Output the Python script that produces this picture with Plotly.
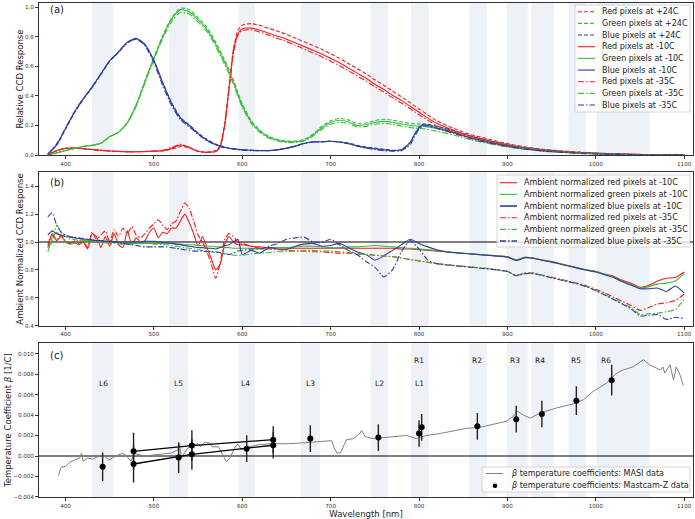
import plotly.graph_objects as go

# ---------------- data ----------------
# Panel (a): relative CCD response
WL_A = [380, 390, 400, 410, 420, 430, 440, 450, 460, 470, 480, 490, 500, 510, 520, 530, 540, 550, 560, 570,
        575, 580, 585, 590, 595, 600,
        610, 620, 630, 640, 650, 660, 670, 680, 690, 700, 710, 720, 730, 740, 750, 760, 770, 780, 790,
        795, 800, 805, 810, 820,
        840, 860, 880, 900, 920, 940, 960, 980, 1000, 1020, 1040, 1060, 1080, 1100]

RED_P24 = [0.000, 0.028, 0.045, 0.046, 0.043, 0.036, 0.032, 0.027, 0.024, 0.021, 0.022, 0.023, 0.024, 0.028, 0.040, 0.058, 0.048, 0.025, 0.020, 0.030,
           0.065, 0.210, 0.460, 0.720, 0.845, 0.880,
           0.890, 0.878, 0.858, 0.838, 0.818, 0.792, 0.767, 0.742, 0.716, 0.686, 0.655, 0.620, 0.585, 0.550, 0.510, 0.473, 0.432, 0.395, 0.354,
           0.333, 0.312, 0.292, 0.272, 0.232,
           0.178, 0.136, 0.106, 0.077, 0.055, 0.039, 0.029, 0.021, 0.014, 0.009, 0.0055, 0.003, 0.0015, 0.0013]
GREEN_P24 = [0.000, 0.014, 0.029, 0.044, 0.057, 0.065, 0.079, 0.124, 0.154, 0.220, 0.340, 0.505, 0.660, 0.810, 0.930, 0.995, 0.985, 0.930, 0.865, 0.765,
             0.705, 0.645, 0.580, 0.510, 0.425, 0.348,
             0.235, 0.168, 0.127, 0.105, 0.095, 0.095, 0.105, 0.142, 0.195, 0.232, 0.248, 0.238, 0.212, 0.217, 0.233, 0.242, 0.236, 0.224, 0.214,
             0.212, 0.210, 0.209, 0.204, 0.194,
             0.163, 0.126, 0.097, 0.071, 0.051, 0.036, 0.026, 0.018, 0.012, 0.008, 0.0048, 0.0028, 0.0015, 0.0013]
BLUE_P24 = [0.005, 0.066, 0.175, 0.285, 0.375, 0.455, 0.545, 0.635, 0.695, 0.760, 0.785, 0.745, 0.640, 0.490, 0.355, 0.255, 0.205, 0.150, 0.105, 0.074,
            0.064, 0.055, 0.048, 0.043, 0.039, 0.036,
            0.033, 0.031, 0.031, 0.036, 0.046, 0.060, 0.078, 0.088, 0.090, 0.094, 0.090, 0.081, 0.066, 0.054, 0.047, 0.039, 0.032, 0.036, 0.084,
            0.140, 0.188, 0.210, 0.208, 0.195,
            0.164, 0.126, 0.096, 0.070, 0.050, 0.035, 0.025, 0.017, 0.012, 0.008, 0.0048, 0.0028, 0.0016, 0.0013]
RED_M10 = [0.000, 0.030, 0.045, 0.047, 0.043, 0.037, 0.032, 0.027, 0.024, 0.022, 0.022, 0.024, 0.026, 0.030, 0.045, 0.068, 0.050, 0.025, 0.018, 0.025,
           0.060, 0.200, 0.450, 0.700, 0.820, 0.855,
           0.860, 0.845, 0.825, 0.805, 0.785, 0.760, 0.735, 0.710, 0.685, 0.655, 0.625, 0.590, 0.555, 0.520, 0.480, 0.445, 0.405, 0.370, 0.330,
           0.310, 0.290, 0.270, 0.250, 0.215,
           0.165, 0.125, 0.095, 0.068, 0.048, 0.033, 0.024, 0.017, 0.011, 0.007, 0.004, 0.002, 0.001, 0.001]
GREEN_M10 = [0.000, 0.015, 0.030, 0.045, 0.058, 0.066, 0.080, 0.125, 0.155, 0.220, 0.340, 0.500, 0.655, 0.800, 0.920, 0.985, 0.970, 0.915, 0.850, 0.750,
             0.690, 0.630, 0.565, 0.495, 0.410, 0.335,
             0.225, 0.160, 0.120, 0.100, 0.090, 0.090, 0.100, 0.135, 0.185, 0.220, 0.235, 0.225, 0.200, 0.205, 0.220, 0.228, 0.222, 0.210, 0.200,
             0.198, 0.196, 0.195, 0.190, 0.180,
             0.150, 0.115, 0.088, 0.063, 0.045, 0.031, 0.022, 0.015, 0.010, 0.006, 0.0035, 0.002, 0.001, 0.001]
BLUE_M10 = [0.005, 0.070, 0.180, 0.290, 0.380, 0.460, 0.550, 0.640, 0.700, 0.765, 0.790, 0.750, 0.640, 0.490, 0.350, 0.250, 0.200, 0.145, 0.100, 0.070,
            0.060, 0.052, 0.046, 0.042, 0.038, 0.035,
            0.032, 0.030, 0.030, 0.035, 0.045, 0.060, 0.078, 0.088, 0.090, 0.093, 0.088, 0.078, 0.062, 0.050, 0.042, 0.035, 0.030, 0.035, 0.085,
            0.140, 0.185, 0.205, 0.200, 0.185,
            0.152, 0.115, 0.086, 0.062, 0.044, 0.030, 0.021, 0.014, 0.0095, 0.006, 0.0033, 0.0018, 0.001, 0.0008]
RED_M35 = [0.000, 0.030, 0.046, 0.047, 0.044, 0.038, 0.032, 0.027, 0.025, 0.023, 0.022, 0.024, 0.027, 0.032, 0.049, 0.072, 0.052, 0.025, 0.017, 0.022,
           0.055, 0.190, 0.440, 0.690, 0.810, 0.845,
           0.848, 0.832, 0.811, 0.790, 0.769, 0.744, 0.718, 0.692, 0.666, 0.636, 0.605, 0.571, 0.536, 0.501, 0.462, 0.427, 0.388, 0.352, 0.313,
           0.293, 0.273, 0.254, 0.236, 0.200,
           0.150, 0.112, 0.083, 0.060, 0.041, 0.028, 0.019, 0.013, 0.008, 0.0045, 0.0025, 0.0015, 0.0009, 0.0008]
GREEN_M35 = [0.000, 0.016, 0.030, 0.045, 0.058, 0.066, 0.080, 0.124, 0.153, 0.215, 0.330, 0.490, 0.645, 0.790, 0.905, 0.965, 0.955, 0.900, 0.835, 0.735,
             0.675, 0.615, 0.550, 0.480, 0.398, 0.325,
             0.215, 0.152, 0.114, 0.095, 0.085, 0.085, 0.095, 0.128, 0.175, 0.208, 0.222, 0.212, 0.190, 0.194, 0.208, 0.214, 0.208, 0.196, 0.186,
             0.183, 0.180, 0.178, 0.173, 0.162,
             0.134, 0.101, 0.076, 0.054, 0.038, 0.026, 0.018, 0.012, 0.0078, 0.0045, 0.0025, 0.0014, 0.0008, 0.0006]
BLUE_M35 = [0.006, 0.075, 0.182, 0.292, 0.382, 0.462, 0.550, 0.638, 0.698, 0.762, 0.785, 0.740, 0.625, 0.470, 0.335, 0.240, 0.190, 0.140, 0.097, 0.068,
            0.058, 0.050, 0.045, 0.040, 0.036, 0.033,
            0.030, 0.029, 0.030, 0.036, 0.047, 0.062, 0.080, 0.089, 0.089, 0.092, 0.086, 0.076, 0.060, 0.046, 0.037, 0.029, 0.026, 0.028, 0.070,
            0.125, 0.175, 0.198, 0.195, 0.180,
            0.145, 0.108, 0.080, 0.057, 0.040, 0.027, 0.018, 0.012, 0.0075, 0.0045, 0.0023, 0.0013, 0.0007, 0.0006]

# Panel (b): ambient-normalised response
WL_B = list(range(380, 601, 5)) + list(range(610, 1101, 10))
NORM_RED_M10 = [0.98, 1.06, 1.01, 1.04, 1.00, 0.99, 1.00, 0.98, 1.00, 0.95, 1.06, 1.04, 0.96, 1.04, 0.97, 1.06, 0.98, 0.96, 1.08, 0.98,
                1.03, 1.00, 1.01, 1.07, 1.10, 1.03, 1.07, 1.06, 1.10, 1.10, 1.15, 1.20, 1.14, 1.06, 0.97, 1.04, 0.96, 0.88, 0.80, 0.84,
                0.98, 1.04, 1.00, 0.98, 0.98,
                0.97, 0.965, 0.96, 0.96, 0.955, 0.955, 0.955, 0.955, 0.955, 0.955, 0.955, 0.955, 0.955, 0.955, 0.955, 0.955, 0.955, 0.95, 0.95,
                0.945, 0.94, 0.935, 0.93, 0.925, 0.92, 0.915, 0.91, 0.905, 0.90, 0.895, 0.87, 0.89, 0.885, 0.87, 0.86, 0.845, 0.83, 0.815, 0.80,
                0.79, 0.77, 0.755, 0.725, 0.705, 0.675, 0.69, 0.72, 0.74, 0.745, 0.785]
NORM_GREEN_M10 = [0.93, 1.03, 1.07, 1.04, 1.00, 0.985, 0.99, 1.00, 1.01, 1.01, 1.01, 1.01, 1.00, 1.00, 1.00, 1.00, 0.995, 0.99, 0.99, 0.99,
                  0.99, 0.99, 0.99, 0.99, 0.99, 0.99, 0.99, 0.99, 0.99, 0.985, 0.985, 0.98, 0.98, 0.98, 0.975, 0.975, 0.97, 0.97, 0.965, 0.965,
                  0.96, 0.96, 0.955, 0.955, 0.955,
                  0.955, 0.95, 0.955, 0.96, 0.96, 0.965, 0.97, 0.97, 0.965, 0.96, 0.96, 0.965, 0.965, 0.97, 0.975, 0.97, 0.965, 0.96, 0.955,
                  0.95, 0.945, 0.94, 0.932, 0.925, 0.92, 0.915, 0.91, 0.905, 0.90, 0.895, 0.872, 0.89, 0.884, 0.87, 0.858, 0.843, 0.828, 0.813, 0.80,
                  0.788, 0.768, 0.748, 0.718, 0.695, 0.67, 0.68, 0.70, 0.705, 0.72, 0.775]
NORM_BLUE_M10 = [1.05, 1.08, 1.06, 1.05, 1.04, 1.035, 1.03, 1.025, 1.02, 1.02, 1.015, 1.01, 1.01, 1.005, 1.005, 1.0, 1.0, 1.0, 1.0, 1.0,
                 1.0, 1.0, 1.005, 1.005, 1.005, 1.0, 1.0, 0.995, 0.99, 0.985, 0.98, 0.975, 0.97, 0.965, 0.96, 0.96, 0.955, 0.955, 0.95, 0.96,
                 0.975, 0.98, 1.0, 1.02, 0.91,
                 0.94, 0.92, 0.96, 0.95, 0.945, 0.97, 0.985, 0.99, 0.97, 0.975, 0.99, 0.96, 0.93, 0.91, 0.87, 0.90, 0.94, 0.98, 1.02,
                 0.99, 0.965, 0.945, 0.93, 0.923, 0.918, 0.913, 0.908, 0.903, 0.898, 0.893, 0.868, 0.888, 0.882, 0.868, 0.856, 0.841, 0.826, 0.811, 0.797,
                 0.785, 0.765, 0.745, 0.715, 0.69, 0.665, 0.665, 0.67, 0.645, 0.685, 0.635]
NORM_RED_M35 = [0.96, 1.05, 1.02, 1.05, 1.01, 0.99, 1.01, 0.99, 1.01, 0.96, 1.07, 1.02, 1.05, 1.08, 1.00, 1.09, 1.04, 1.10, 1.06, 1.11,
                1.05, 1.03, 1.06, 1.10, 1.13, 1.16, 1.12, 1.09, 1.13, 1.15, 1.22, 1.28, 1.24, 1.15, 1.05, 1.00, 0.93, 0.84, 0.74, 0.85,
                1.02, 1.06, 1.04, 1.00, 0.99,
                0.97, 0.955, 0.95, 0.945, 0.94, 0.935, 0.935, 0.93, 0.93, 0.925, 0.92, 0.92, 0.915, 0.91, 0.905, 0.90, 0.895, 0.885, 0.875,
                0.865, 0.855, 0.845, 0.838, 0.832, 0.826, 0.82, 0.814, 0.808, 0.80, 0.79, 0.762, 0.778, 0.777, 0.762, 0.748, 0.733, 0.718, 0.703, 0.685,
                0.662, 0.635, 0.605, 0.575, 0.545, 0.51, 0.53, 0.555, 0.565, 0.58, 0.625]
NORM_GREEN_M35 = [0.96, 1.00, 1.12, 1.08, 1.04, 1.02, 1.02, 1.01, 1.01, 1.00, 1.00, 1.00, 1.00, 0.995, 0.99, 0.99, 0.985, 0.985, 0.985, 0.985,
                  0.99, 0.99, 0.99, 0.99, 0.985, 0.985, 0.98, 0.98, 0.975, 0.97, 0.965, 0.96, 0.955, 0.95, 0.945, 0.94, 0.935, 0.93, 0.925, 0.92,
                  0.915, 0.91, 0.905, 0.905, 0.905,
                  0.915, 0.92, 0.925, 0.93, 0.93, 0.935, 0.94, 0.94, 0.935, 0.935, 0.93, 0.925, 0.92, 0.91, 0.905, 0.90, 0.895, 0.885, 0.875,
                  0.865, 0.855, 0.845, 0.838, 0.832, 0.826, 0.82, 0.814, 0.808, 0.80, 0.79, 0.76, 0.775, 0.775, 0.76, 0.745, 0.73, 0.715, 0.70, 0.68,
                  0.655, 0.625, 0.593, 0.56, 0.53, 0.48, 0.485, 0.49, 0.50, 0.515, 0.59]
NORM_BLUE_M35 = [1.18, 1.21, 1.12, 1.07, 1.05, 1.04, 1.035, 1.03, 1.025, 1.02, 1.015, 1.01, 1.01, 1.005, 1.0, 1.0, 0.995, 0.99, 0.985, 0.98,
                 0.975, 0.97, 0.965, 0.965, 0.965, 0.965, 0.965, 0.965, 0.96, 0.955, 0.95, 0.945, 0.94, 0.935, 0.935, 0.935, 0.93, 0.93, 0.93, 0.925,
                 0.92, 0.91, 0.92, 0.935, 0.94,
                 0.95, 0.95, 0.97, 0.99, 1.02, 1.03, 1.035, 1.00, 0.995, 1.02, 0.98, 0.94, 0.91, 0.86, 0.82, 0.75, 0.80, 0.93, 1.01,
                 0.95, 0.87, 0.845, 0.836, 0.83, 0.824, 0.818, 0.812, 0.806, 0.798, 0.788, 0.758, 0.773, 0.773, 0.758, 0.743, 0.728, 0.713, 0.698, 0.678,
                 0.652, 0.62, 0.588, 0.555, 0.52, 0.47, 0.475, 0.48, 0.445, 0.46, 0.45]

# Panel (c): temperature coefficients
MASI_WL = [392, 395, 400, 405, 410, 416, 418, 420, 425, 431, 438, 444, 449, 457, 464, 468, 474, 478, 489, 500,
           512, 520, 527, 529, 531, 538, 546, 550, 553, 557, 563, 566, 573, 578, 582, 586, 591, 595, 599, 606,
           618, 633, 652, 671, 690, 701, 704, 707, 711, 718, 726, 733, 735, 739, 748, 763, 786, 797, 808, 824,
           843, 854, 869, 884, 899, 907, 911, 918, 926, 937, 956, 975, 986, 997, 1012, 1024, 1031, 1042, 1054, 1061,
           1073, 1076, 1078, 1084, 1088, 1091, 1095, 1099]
MASI_BETA = [-0.0019, -0.0011, -0.0010, -0.0006, -0.0004, -0.0002, 0.00025, -0.0005, -0.0002, -0.0003, 0.0, 0.0, -0.0004, 0.0, 0.00025, 0.0001, -0.0005, 0.00025, 0.0, 0.0001,
             0.00025, 0.0003, 0.0006, 0.0012, -0.0002, 0.00075, 0.0011, 0.0012, 0.0009, 0.0013, 0.0013, 0.0009, 0.0009, 0.0, -0.00055, -0.0002, 0.00075, 0.0012, 0.0006, 0.00085,
             0.0011, 0.0012, 0.0012, 0.0013, 0.0014, 0.0015, 0.0008, 0.0003, 0.0003, 0.0016, 0.0017, 0.0022, 0.0025, 0.0019, 0.0017, 0.0018, 0.0020, 0.0017, 0.0020, 0.0022,
             0.0025, 0.0027, 0.0028, 0.0031, 0.0034, 0.0039, 0.0044, 0.0040, 0.0037, 0.0042, 0.0047, 0.0051, 0.0055, 0.0063, 0.0071, 0.0081, 0.0084, 0.0087, 0.0094, 0.0089,
             0.0084, 0.0087, 0.0081, 0.0089, 0.0074, 0.0087, 0.0080, 0.0069]
MZ_WL = [442, 477, 477, 528, 543, 543, 605, 635, 635, 677, 754, 800, 803, 866, 910, 939, 978, 1018]
MZ_BETA = [-0.00105, 0.00046, -0.00078, -0.00015, 0.00102, 0.00017, 0.00072, 0.0016, 0.00105, 0.0017,
           0.0018, 0.0022, 0.0028, 0.0029, 0.0036, 0.0041, 0.0054, 0.0074]
MZ_ERR = [0.0014, 0.0018, 0.0018, 0.0015, 0.0015, 0.0015, 0.0013, 0.0013, 0.0013, 0.0013,
          0.0013, 0.0013, 0.0013, 0.0013, 0.0013, 0.0013, 0.0014, 0.0015]
RGB_UPPER_IDX = [1, 4, 7]
RGB_LOWER_IDX = [2, 5, 8]

# Filter bandpasses and labels
BAND_LO = [430, 517, 596, 666, 745, 791, 857, 899, 927, 969, 1001]
BAND_HI = [454, 539, 614, 688, 765, 811, 877, 923, 953, 989, 1061]
LEFT_NAMES = ["L6", "L5", "L4", "L3", "L2", "L1"]
LEFT_POS = [443, 528, 604, 677, 755, 800]
RIGHT_NAMES = ["R1", "R2", "R3", "R4", "R5", "R6"]
RIGHT_POS = [800, 866, 909, 937, 978, 1011]
LEFT_ROW, RIGHT_ROW = 0.0071, 0.0093

X_TICKS = [400, 500, 600, 700, 800, 900, 1000, 1100]

LEG_A = ["Red pixels at +24C", "Green pixels at +24C", "Blue pixels at +24C",
         "Red pixels at -10C", "Green pixels at -10C", "Blue pixels at -10C",
         "Red pixels at -35C", "Green pixels at -35C", "Blue pixels at -35C"]
LEG_B = ["Ambient normalized red pixels at -10C", "Ambient normalized green pixels at -10C",
         "Ambient normalized blue pixels at -10C", "Ambient normalized red pixels at -35C",
         "Ambient normalized green pixels at -35C", "Ambient normalized blue pixels at -35C"]
LEG_C = ["<i>β</i> temperature coefficients: MASI data", "<i>β</i> temperature coefficients: Mastcam-Z data"]

# ---------------- style ----------------
RED, GREEN, BLUE = "#f21d1d", "#3cba3c", "#2e3d9e"
DASH = {"p24": "4px,2px", "m10": "solid", "m35": "6px,2px,1.5px,2px"}
W, H = 695, 519
ML, MR, MT, MB = 39, 2, 3, 22
PW, PH = W - ML - MR, H - MT - MB
FONT = "DejaVu Sans"


def px(x, y):
    return (x - ML) / PW, (H - MB - y) / PH


fig = go.Figure()

series_a = [(RED_P24, RED, "p24"), (GREEN_P24, GREEN, "p24"), (BLUE_P24, BLUE, "p24"),
            (RED_M10, RED, "m10"), (GREEN_M10, GREEN, "m10"), (BLUE_M10, BLUE, "m10"),
            (RED_M35, RED, "m35"), (GREEN_M35, GREEN, "m35"), (BLUE_M35, BLUE, "m35")]
for name, (vals, col, key) in zip(LEG_A, series_a):
    fig.add_trace(go.Scatter(x=WL_A, y=vals, mode="lines", name=name, showlegend=False,
                             line=dict(color=col, width=1.1, dash=DASH[key], shape="spline", smoothing=0.6),
                             xaxis="x", yaxis="y"))

series_b = [(NORM_RED_M10, RED, "m10"), (NORM_GREEN_M10, GREEN, "m10"), (NORM_BLUE_M10, BLUE, "m10"),
            (NORM_RED_M35, RED, "m35"), (NORM_GREEN_M35, GREEN, "m35"), (NORM_BLUE_M35, BLUE, "m35")]
for name, (vals, col, key) in zip(LEG_B, series_b):
    fig.add_trace(go.Scatter(x=WL_B, y=vals, mode="lines", name=name, showlegend=False,
                             line=dict(color=col, width=1.1, dash=DASH[key], shape="spline", smoothing=0.5),
                             xaxis="x2", yaxis="y2"))

fig.add_trace(go.Scatter(x=MASI_WL, y=MASI_BETA, mode="lines", name=LEG_C[0], showlegend=False,
                         line=dict(color="#808080", width=1.0), xaxis="x3", yaxis="y3"))
for idx in (RGB_UPPER_IDX, RGB_LOWER_IDX):
    fig.add_trace(go.Scatter(x=[MZ_WL[i] for i in idx], y=[MZ_BETA[i] for i in idx], mode="lines",
                             showlegend=False, line=dict(color="black", width=1.3), xaxis="x3", yaxis="y3"))
fig.add_trace(go.Scatter(x=MZ_WL, y=MZ_BETA, mode="markers", name=LEG_C[1], showlegend=False,
                         marker=dict(color="black", size=6),
                         error_y=dict(type="data", array=MZ_ERR, color="#222", thickness=1.4, width=0),
                         xaxis="x3", yaxis="y3"))

shapes, annotations = [], []
# filter bands
for xr, yr in (("x", "y"), ("x2", "y2"), ("x3", "y3")):
    for lo, hi in zip(BAND_LO, BAND_HI):
        shapes.append(dict(type="rect", xref=xr, yref=f"{yr} domain", x0=lo, x1=hi, y0=0, y1=1,
                           fillcolor="#eef1f5", line=dict(width=0), layer="below"))
shapes.append(dict(type="line", xref="x2 domain", yref="y2", x0=0, x1=1, y0=1.0, y1=1.0,
                   line=dict(color="black", width=1.2), layer="below"))
shapes.append(dict(type="line", xref="x3 domain", yref="y3", x0=0, x1=1, y0=0.0, y1=0.0,
                   line=dict(color="black", width=1.2), layer="below"))

# filter labels
for n, xp in zip(LEFT_NAMES, LEFT_POS):
    annotations.append(dict(x=xp, y=LEFT_ROW, xref="x3", yref="y3", text=n, showarrow=False,
                            font=dict(size=7.5, color="#222")))
for n, xp in zip(RIGHT_NAMES, RIGHT_POS):
    annotations.append(dict(x=xp, y=RIGHT_ROW, xref="x3", yref="y3", text=n, showarrow=False,
                            font=dict(size=7.5, color="#222")))

# panel labels
for lab, ypx in (("(a)", 9.5), ("(b)", 182), ("(c)", 355)):
    x0, y0 = px(48, ypx)
    annotations.append(dict(x=x0, y=y0, xref="paper", yref="paper", text=lab, showarrow=False,
                            xanchor="left", yanchor="middle", font=dict(size=10, color="#222")))


def legend_box(x0, y0, x1, y1):
    a, b = px(x0, y0)
    c, d = px(x1, y1)
    shapes.append(dict(type="rect", xref="paper", yref="paper", x0=a, y0=d, x1=c, y1=b,
                       fillcolor="rgba(255,255,255,0.8)", line=dict(color="#cccccc", width=0.8), layer="above"))


def legend_line(x0, x1, y, color, dash, width=1.1):
    a, b = px(x0, y)
    c, _ = px(x1, y)
    shapes.append(dict(type="line", xref="paper", yref="paper", x0=a, x1=c, y0=b, y1=b,
                       line=dict(color=color, width=width, dash=dash), layer="above"))


def legend_text(x, y, text):
    a, b = px(x, y)
    annotations.append(dict(x=a, y=b, xref="paper", yref="paper", text=text, showarrow=False,
                            xanchor="left", yanchor="middle", font=dict(size=8, color="#222")))


# legend (a)
legend_box(575, 5, 690, 112)
for i, (name, (vals, col, key)) in enumerate(zip(LEG_A, series_a)):
    yy = 11.7 + 11.67 * i
    legend_line(578, 595, yy, col, DASH[key])
    legend_text(600, yy, name)
# legend (b)
legend_box(497, 175, 690, 247)
for i, (name, (vals, col, key)) in enumerate(zip(LEG_B, series_b)):
    yy = 182.7 + 11.67 * i
    legend_line(500, 517, yy, col, DASH[key], 1.6 if col == BLUE else 1.1)
    legend_text(522, yy, name)
# legend (c)
legend_box(482, 467, 690, 492)
legend_line(486, 503, 473.5, "#808080", "solid", 1.0)
legend_text(509, 473.5, LEG_C[0])
cx, cy = px(495, 485.7)
shapes.append(dict(type="circle", xref="paper", yref="paper", x0=cx - 2.3 / PW, x1=cx + 2.3 / PW,
                   y0=cy - 2.3 / PH, y1=cy + 2.3 / PH, fillcolor="black", line=dict(width=0), layer="above"))
legend_text(509, 485.7, LEG_C[1])

axis_common = dict(showline=True, mirror=True, linecolor="#333", linewidth=0.9, ticks="outside", ticklen=3,
                   tickwidth=0.8, tickcolor="#333", tickfont=dict(size=5.6, color="#333"), showgrid=False,
                   zeroline=False)
xcommon = dict(axis_common, range=[370, 1110], tickvals=X_TICKS)
title_font = dict(size=8.5, color="#222")

fig.update_layout(
    width=W, height=H, margin=dict(l=ML, r=MR, t=MT, b=MB),
    paper_bgcolor="white", plot_bgcolor="white", font=dict(family=FONT),
    showlegend=False,
    xaxis=dict(xcommon, anchor="y"),
    xaxis2=dict(xcommon, anchor="y2"),
    xaxis3=dict(xcommon, anchor="y3", title=dict(text="Wavelength [nm]", font=title_font, standoff=2)),
    yaxis=dict(axis_common, domain=[0.6923, 1.0], range=[0, 1.03], tickvals=[0, 0.2, 0.4, 0.6, 0.8, 1.0],
               tickformat=".1f", anchor="x",
               title=dict(text="Relative CCD Response", font=title_font, standoff=0)),
    yaxis2=dict(axis_common, domain=[0.3468, 0.6573], range=[0.4, 1.5], tickvals=[0.4, 0.6, 0.8, 1.0, 1.2, 1.4],
                tickformat=".1f", anchor="x2",
                title=dict(text="Ambient Normalized CCD Response", font=title_font, standoff=0)),
    yaxis3=dict(axis_common, domain=[0.0, 0.3111], range=[-0.004, 0.011],
                tickvals=[-0.004, -0.002, 0.0, 0.002, 0.004, 0.006, 0.008, 0.010],
                tickformat=".3f", anchor="x3",
                title=dict(text="Temperature Coefficient <i>β</i> [1/C]", font=title_font, standoff=0)),
    shapes=shapes, annotations=annotations,
)

fig.write_html("out.html", config={"displayModeBar": False},
               post_script="document.body.style.margin='0';document.body.style.overflow='hidden';")
